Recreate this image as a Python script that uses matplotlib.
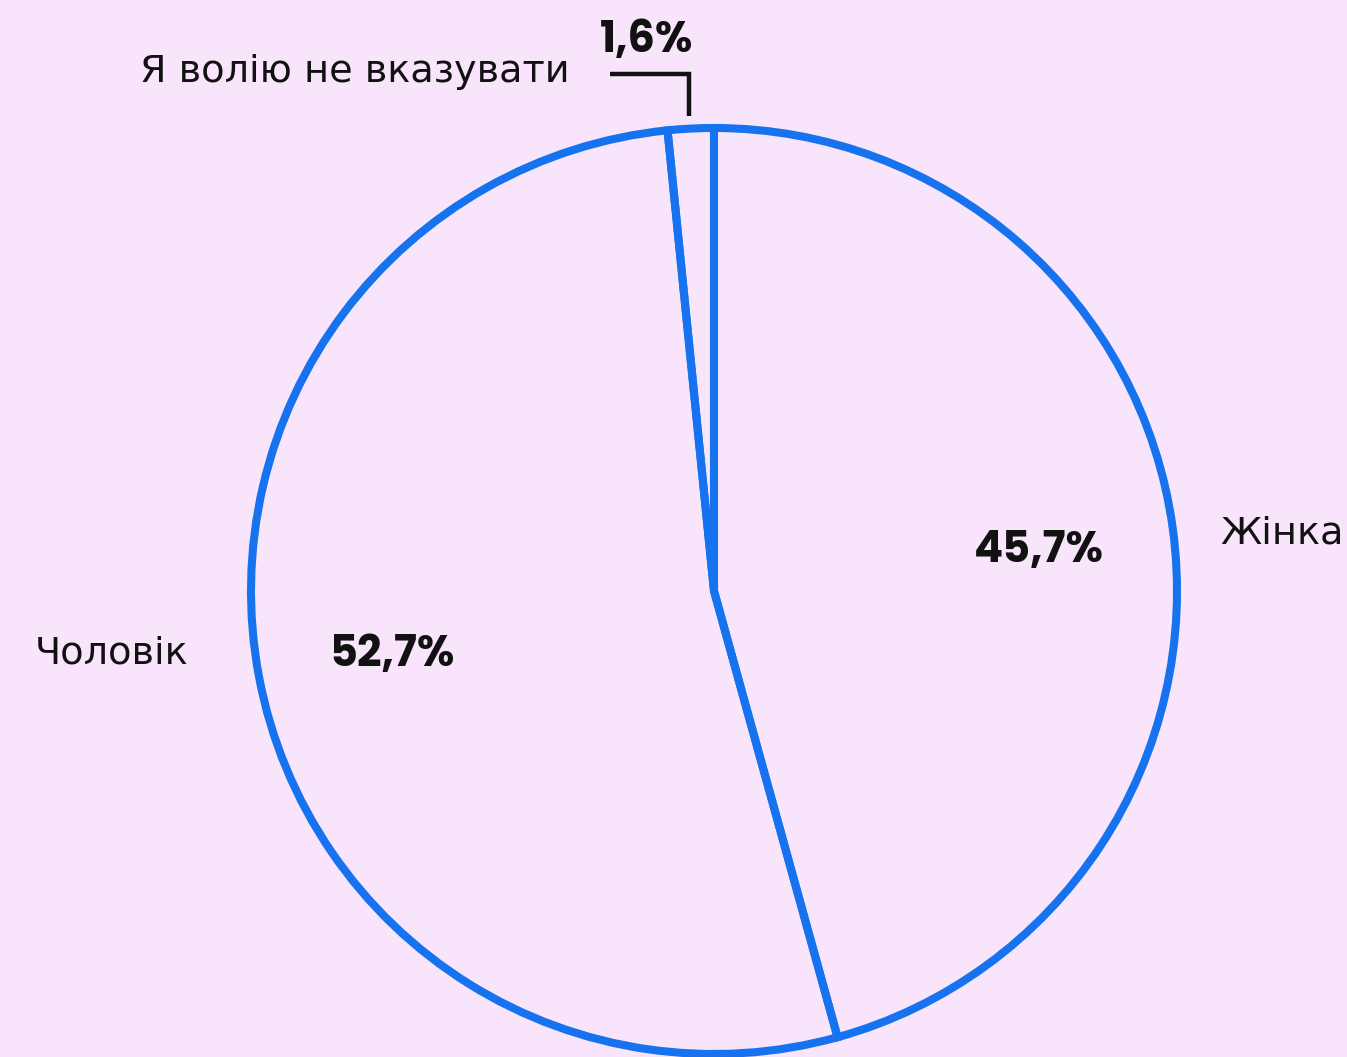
import matplotlib
matplotlib.use("Agg")
import matplotlib.pyplot as plt

# Survey answers: gender of respondents
categories = ["Жінка", "Чоловік", "Я волію не вказувати"]
shares = [45.7, 52.7, 1.6]
value_labels = ["45,7%", "52,7%", "1,6%"]

W, H = 1347, 1057
BG = "#f8e5fb"
BLUE = "#1672ee"

fig = plt.figure(figsize=(W / 100, H / 100), dpi=100, facecolor=BG)
ax = fig.add_axes([0, 0, 1, 1])
ax.set_facecolor(BG)

cx, cy, r = 714, H - 591, 463
wedges, _ = ax.pie(
    shares,
    startangle=90,
    counterclock=False,
    center=(cx, cy),
    radius=r,
    frame=True,
    wedgeprops=dict(facecolor="none", edgecolor=BLUE, linewidth=5.8,
                    joinstyle="miter"),
)
ax.set_xlim(0, W)
ax.set_ylim(0, H)
ax.set_aspect("equal")
ax.axis("off")

name_font = ["DejaVu Sans"]
num_font = ["Poppins", "Inter", "DejaVu Sans"]
name_kw = dict(fontsize=27.5, family=name_font, color="#111111",
               ha="left", va="center")

# Category names
ax.text(1220, H - 533, categories[0], **name_kw)
ax.text(35, H - 653, categories[1], **name_kw)
ax.text(140, H - 72, categories[2], **name_kw)

# Percentages
num_kw = dict(fontsize=31, family=num_font, weight="bold", color="#111111",
              ha="center", va="center")
ax.text(1039, H - 551, value_labels[0], **num_kw)
ax.text(392, H - 655, value_labels[1], **num_kw)
ax.text(647, H - 41, value_labels[2], **num_kw)

# Leader bracket for the small slice
ax.plot([610, 689, 689], [H - 74, H - 74, H - 116], color="#111111",
        linewidth=3.2, solid_joinstyle="miter", solid_capstyle="butt")

fig.savefig("out.png", dpi=100, facecolor=BG)
